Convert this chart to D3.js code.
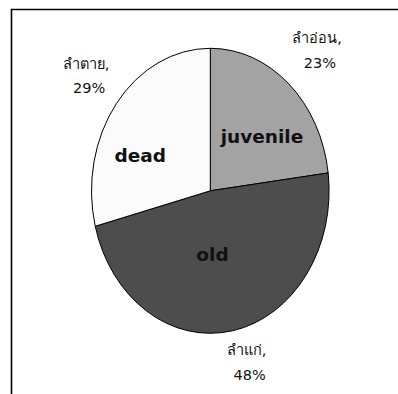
<!DOCTYPE html>
<html>
<head>
<meta charset="utf-8">
<script src="https://cdn.jsdelivr.net/npm/d3@7/dist/d3.min.js"></script>
<style>
  html, body { margin: 0; padding: 0; background: #fff; }
  svg { display: block; }
</style>
</head>
<body>
<svg id="chart" width="398" height="394"></svg>
<script>
// ---- data ----
const categories = ["juvenile", "old", "dead"];
const thaiNames = ["ลำอ่อน", "ลำแก่", "ลำตาย"];
const values = [23, 48, 29];
const colors = ["#a3a3a3", "#4d4d4d", "#fbfbfb"];

// ---- layout ----
const W = 398, H = 394;
const cx = 210.3, cy = 190.8;
const rx = 118.8, ry = 142.5;

const svg = d3.select("#chart");

// frame (top and left edges visible, rest beyond the window)
svg.append("path")
  .attr("d", `M11.5,${H + 5} L11.5,9.5 L${W + 5},9.5`)
  .attr("fill", "none")
  .attr("stroke", "#000")
  .attr("stroke-width", 1.6);

const pie = d3.pie().sort(null).value(d => d)(values);
const arc = d3.arc().innerRadius(0).outerRadius(rx);

const g = svg.append("g")
  .attr("transform", `translate(${cx},${cy}) scale(1,${ry / rx})`);

g.selectAll("path.slice")
  .data(pie)
  .join("path")
  .attr("class", "slice")
  .attr("d", arc)
  .attr("fill", (d, i) => colors[i])
  .attr("stroke", "#000")
  .attr("stroke-width", 1)
  .attr("vector-effect", "non-scaling-stroke");

// helper: point on the (elliptical) pie at angle a and radial fraction k
function pt(a, k) {
  return [cx + rx * k * Math.sin(a), cy - ry * k * Math.cos(a)];
}

// inner category labels (baseline positions)
const innerK = [0.551, 0.491, 0.622];
const innerDa = [0.188, 0.151, -0.333];
pie.forEach((d, i) => {
  const a = (d.startAngle + d.endAngle) / 2 + innerDa[i];
  const [x, y] = pt(a, innerK[i]);
  svg.append("text")
    .attr("x", x)
    .attr("y", y)
    .attr("text-anchor", "middle")
    .attr("font-family", "Tahoma, 'DejaVu Sans', Verdana, sans-serif")
    .attr("font-weight", "bold")
    .attr("font-size", 18.5)
    .attr("fill", "#111")
    .text(categories[i]);
});

// outside labels
const outerK = [1.309, 1.274, 1.299];
const outerDa = [0.033, -0.054, -0.024];
const fmt = v => v + "%";
pie.forEach((d, i) => {
  const a = (d.startAngle + d.endAngle) / 2 + outerDa[i];
  const [x, y] = pt(a, outerK[i]);
  const t = svg.append("text")
    .attr("text-anchor", "middle")
    .attr("font-family", "Tahoma, 'DejaVu Sans', sans-serif")
    .attr("font-size", 14.5)
    .attr("fill", "#111");
  t.append("tspan").attr("x", x).attr("y", y - 12).text(thaiNames[i] + ",");
  t.append("tspan").attr("x", x + 3).attr("y", y + 12.5).text(fmt(values[i]));
});
</script>
</body>
</html>
